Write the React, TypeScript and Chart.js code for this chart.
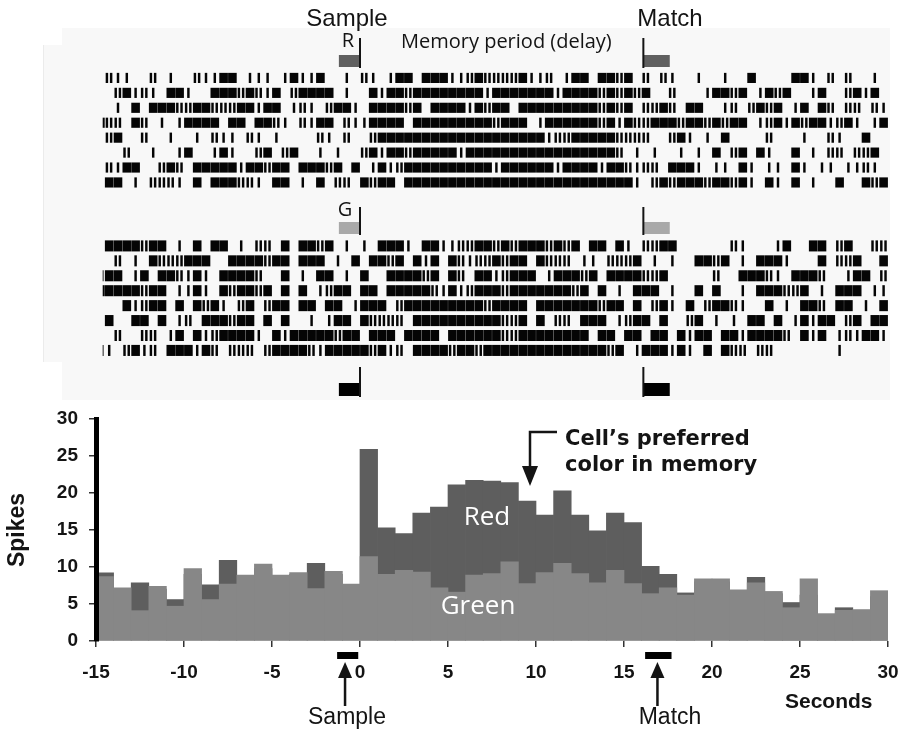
import React, { useEffect, useRef } from 'react';
import { Chart, registerables } from 'chart.js';
Chart.register(...registerables);

// ---------------- DATA ----------------
// Histogram: 1-second bins (start of each bin, seconds)
const binStarts = [-15, -14, -13, -12, -11, -10, -9, -8, -7, -6, -5, -4, -3, -2, -1, 0, 1, 2, 3, 4, 5, 6, 7, 8, 9, 10, 11, 12, 13, 14, 15, 16, 17, 18, 19, 20, 21, 22, 23, 24, 25, 26, 27, 28, 29];
const redCounts = [9.2, 7.0, 7.85, 7.0, 5.6, 9.0, 7.6, 10.9, 8.5, 9.8, 8.6, 9.0, 10.5, 9.0, 7.5, 25.9, 15.3, 14.5, 17.3, 18.1, 21.1, 21.7, 21.6, 21.4, 18.9, 17.0, 20.3, 17.0, 14.9, 17.3, 16.0, 10.1, 9.0, 6.5, 8.0, 8.0, 6.5, 8.6, 6.4, 5.2, 6.2, 3.5, 4.5, 4.0, 6.0];
const greenCounts = [8.7, 7.2, 4.1, 7.4, 4.7, 9.8, 5.6, 7.7, 8.9, 10.4, 8.9, 9.25, 7.1, 9.4, 7.7, 11.4, 9.0, 9.55, 9.3, 7.2, 6.6, 8.9, 9.1, 10.7, 7.75, 9.25, 10.5, 9.1, 7.85, 9.55, 7.75, 6.4, 7.2, 6.2, 8.4, 8.4, 6.9, 7.85, 6.7, 4.5, 8.4, 3.7, 4.15, 4.25, 6.8];
const xTickValues = [-15, -10, -5, 0, 5, 10, 15, 20, 25, 30];
const yTickValues = [0, 5, 10, 15, 20, 25, 30];

// Task epochs (seconds)
const sampleWindow = [-1.2, 0];
const matchWindow = [16.1, 17.6];
const sampleBar = [-1.3, -0.1];
const matchBar = [16.2, 17.7];
const sampleArrowAt = -0.85;
const matchArrowAt = 16.9;

// Raster: each row = 9 chunks of 5 s, each chunk = 10 bins of 0.5 s, from -15 s.
// ' ' none, '|' one spike, ':' two spikes, '#' burst filling the bin
const RASTER_START = -15;
const RASTER_FIRST = -14.62;
const BIN = 0.5;
const redRows = [
  ["|:||  : | ", " :||## |||", " |#||#  | ", ":| |## ###", "||:#::::#|", "|: |## ##:", "# : :|  | ", " |  #    #", "#| : :  | "],
  ["  :#|:| ##", "|  ###:#:|", "# :#### | ", " #|##:####", "####|#####", "##|####:#:", "#:#  :   |", "##:# |#:# ", " |#  :#|# "],
  ["| | # ###:", ":##:::##|#", "# |:| :##|", " ####:# ##", "##|#:## ##", "#######:#:", "# ::#: ## ", " |: :#:# |", "# #: :: :|"],
  ["#:: #: | |", "#### ## ##", ":| :|## :|", "|#### ####", "#####:### ", "|######:#|", "#::###:##:", "#:## |:#|#", ":##|:#| |#"],
  [" :#  :  | ", " | :|| :| ", "|    :| : ", " :########", "##########", "#|::#####:", ":::  :#| |", " #    :   ", "|  :|  #  "],
  ["|  :  |  |", "#  |#|  :#", " :#  | |  ", ":#|##:####", "#|########", "#########:", " | |  | | ", "# :# #|  #", " | :: ::# "],
  [" :|##  :#:", " #####|##:", "## ###:# #", " |#|:#####", "#####|####", "##|####|##", ":|:: ###| ", "|| #| || #", "| || ||:| "],
  [" ## | :::|", " # ###::| ", "## | # :: ", "#:## #####", "##########", "##########", "#| :#:###:", "##:#| #| #", " |  #  #:#"],
];
const greenRows = [
  [" ####:## |", " # ## | ::", " # ##:# | ", "| ###| ##|", "|::##:#:##", "#:#:# ## #", "| ::##    ", "  :|   |# ", " ## :#  ::"],
  ["| : | #:::", "###  ####:", "## ### | #", " ##:# #|# ", "#:|::#:## ", "#::: || ::", ":# | |  ##", ":# | ###| ", "  # ::#  #"],
  [":## |# ##:", "|#| ####: ", " # | ## | ", "#  ####:# ", "#: ##|:###", " |###:# ##", "##::#     ", ":  ###:| #", "##:  |## :"],
  ["#####:## |", "|#| #:##:#", " # # |:## ", "## #####:|", "#|:###:###", "####:# # |", " ### |  # ", "#  | ###::", "# | ### ||"],
  ["   #|:## #", " #:#| :# :", "## ## ## |", "### :#####", "####:#### ", "#######:##", " # :#| # :", "##:|  # | ", "##: ## | #"],
  [" #  ## # |", ": ###:## #", " #  | |## ", "#:::: ####", "######::# ", "# :: ### |", ":## #  :# ", "| | ## # |", "#|## :# ##"],
  ["  :  :: |#", " #|:####| ", "#|#####:##", " ### #### ", "######::##", "###### ## ", "## ## #|##", " ##|####: ", "#|# |:|##|"],
  [":| :#|: ##", "#|#: ::: :", "####:|####", "#:#|: ####", ":##:######", "########:#", " |###|#| #", " #:: ::   ", "    |     "],
];
const GREEN_ROW_OFFSET = 11.25;

// ---------------- STYLE ----------------
const HELV = "'Liberation Sans', Arial, Helvetica, sans-serif";
const MYR = "'Open Sans', 'Noto Sans', sans-serif";
const DARK = '#5e5e5e';
const LIGHT = '#878787';
const INK = '#141414';

function rowSegments(chunks: string[]): [number, number][] {
  const segs: [number, number][] = [];
  const push = (a: number, b: number) => {
    if (b <= RASTER_FIRST) return;
    segs.push([Math.max(a, RASTER_FIRST), b]);
  };
  chunks.forEach((chunk, ci) => {
    for (let k = 0; k < Math.min(chunk.length, 10); k++) {
      const b = RASTER_START + (ci * 10 + k) * BIN;
      const c = chunk[k];
      if (c === '|') push(b + 0.18, b + 0.32);
      else if (c === ':') { push(b + 0.05, b + 0.19); push(b + 0.29, b + 0.43); }
      else if (c === '#') push(b + 0.005, b + 0.495);
    }
  });
  return segs;
}

const rasterDecor = {
  id: 'rasterDecor',
  beforeDraw(chart: any) {
    const { ctx, width, height } = chart;
    ctx.save();
    ctx.fillStyle = '#ffffff';
    ctx.fillRect(0, 0, width, height);
    ctx.fillStyle = '#f8f8f8';
    ctx.fillRect(62, 28, 828, 372);
    ctx.fillRect(44, 45, 18, 317);
    ctx.strokeStyle = '#ebebeb';
    ctx.lineWidth = 1;
    ctx.beginPath(); ctx.moveTo(43.5, 45); ctx.lineTo(43.5, 362); ctx.stroke();
    ctx.restore();
  },
  afterDatasetsDraw(chart: any) {
    const { ctx } = chart;
    const xs = chart.scales.x;
    const X = (t: number) => xs.getPixelForValue(t);
    ctx.save();
    const marker = (lineTop: number, boxTop: number, boxBottom: number, fill: string) => {
      const s0 = X(sampleWindow[0]), s1 = X(sampleWindow[1]);
      ctx.fillStyle = fill; ctx.fillRect(s0, boxTop, s1 - s0 - 1, boxBottom - boxTop);
      ctx.fillStyle = INK; ctx.fillRect(s1 - 1, lineTop, 2, boxBottom - lineTop + 1);
      const m0 = X(matchWindow[0]), m1 = X(matchWindow[1]);
      ctx.fillStyle = fill; ctx.fillRect(m0, boxTop, m1 - m0, boxBottom - boxTop);
      ctx.fillStyle = INK; ctx.fillRect(m0 - 1, lineTop, 2, boxBottom - lineTop + 1);
    };
    marker(38, 55, 67, '#606060');
    marker(207, 222, 234, '#a9a9a9');
    marker(367, 383, 396, '#000000');

    ctx.fillStyle = INK;
    ctx.textBaseline = 'alphabetic';
    ctx.textAlign = 'center';
    ctx.font = `24px ${HELV}`;
    ctx.fillText('Sample', 347, 26);
    ctx.fillText('Match', 670, 26);
    ctx.font = `20px ${MYR}`;
    ctx.fillText('R', 348, 47);
    ctx.fillText('G', 345, 216);
    ctx.textAlign = 'left';
    ctx.font = `20px ${MYR}`;
    ctx.fillText('Memory period (delay)', 401, 48);
    ctx.restore();
  },
};

const histDecor = {
  id: 'histDecor',
  beforeDraw(chart: any) {
    const { ctx, width, height } = chart;
    ctx.save();
    ctx.fillStyle = '#ffffff';
    ctx.fillRect(0, 0, width, height);
    ctx.restore();
  },
  afterDraw(chart: any) {
    const { ctx } = chart;
    const xs = chart.scales.x;
    const X = (t: number) => xs.getPixelForValue(t);
    ctx.save();
    ctx.fillStyle = '#000';
    ctx.fillRect(X(sampleBar[0]), 252, X(sampleBar[1]) - X(sampleBar[0]), 7);
    ctx.fillRect(X(matchBar[0]), 252, X(matchBar[1]) - X(matchBar[0]), 7);

    const upArrow = (x: number) => {
      ctx.fillStyle = INK;
      ctx.fillRect(x - 1.25, 275, 2.5, 31);
      ctx.beginPath();
      ctx.moveTo(x, 262); ctx.lineTo(x + 7, 278); ctx.lineTo(x - 7, 278); ctx.closePath();
      ctx.fill();
    };
    upArrow(X(sampleArrowAt));
    upArrow(X(matchArrowAt));

    ctx.fillStyle = INK;
    ctx.textBaseline = 'alphabetic';
    ctx.textAlign = 'center';
    ctx.font = `23px ${HELV}`;
    ctx.fillText('Sample', 347, 324);
    ctx.fillText('Match', 670, 324);
    ctx.textAlign = 'left';
    ctx.font = `bold 21px ${HELV}`;
    ctx.fillText('Seconds', 785, 308);

    ctx.font = `bold 21px 'DejaVu Sans', ${HELV}`;
    ctx.fillText('Cell\u2019s preferred', 565, 45);
    ctx.fillText('color in memory', 565, 71);
    ctx.strokeStyle = INK;
    ctx.lineWidth = 2.5;
    ctx.beginPath();
    ctx.moveTo(557, 32); ctx.lineTo(530, 32); ctx.lineTo(530, 70);
    ctx.stroke();
    ctx.beginPath();
    ctx.moveTo(522, 66); ctx.lineTo(538, 66); ctx.lineTo(530, 86); ctx.closePath();
    ctx.fill();

    ctx.fillStyle = '#ffffff';
    ctx.textAlign = 'center';
    ctx.font = `26px ${MYR}`;
    ctx.fillText('Red', 487, 125);
    ctx.fillText('Green', 478, 214);
    ctx.restore();
  },
};

export default function App() {
  const rasterRef = useRef<HTMLCanvasElement | null>(null);
  const histRef = useRef<HTMLCanvasElement | null>(null);

  useEffect(() => {
    const rasterDatasets: any[] = [];
    redRows.forEach((row, i) => {
      rasterDatasets.push({
        data: rowSegments(row).map((s) => ({ x: s, y: i })),
        backgroundColor: '#050505',
        borderWidth: 0,
        grouped: false,
        categoryPercentage: 1,
        barPercentage: 0.68,
      });
    });
    greenRows.forEach((row, j) => {
      rasterDatasets.push({
        data: rowSegments(row).map((s) => ({ x: s, y: GREEN_ROW_OFFSET + j })),
        backgroundColor: '#050505',
        borderWidth: 0,
        grouped: false,
        categoryPercentage: 1,
        barPercentage: 0.74,
      });
    });

    const raster = new Chart(rasterRef.current as HTMLCanvasElement, {
      type: 'bar',
      data: { datasets: rasterDatasets },
      plugins: [rasterDecor],
      options: {
        indexAxis: 'y',
        animation: false,
        responsive: false,
        events: [],
        layout: { padding: { left: 96, right: 14, top: 0, bottom: 0 } },
        plugins: { legend: { display: false }, tooltip: { enabled: false } },
        scales: {
          x: { type: 'linear', min: -15, max: 30, display: false },
          y: {
            type: 'linear', min: -5.22, max: 21.57, reverse: true, display: false,
            offset: false, grid: { offset: false }, ticks: { stepSize: 100 },
          },
        },
      } as any,
    });

    const hist = new Chart(histRef.current as HTMLCanvasElement, {
      type: 'bar',
      data: {
        datasets: [
          {
            label: 'Green',
            data: binStarts.map((b, i) => ({ x: b + 0.5, y: greenCounts[i] })),
            backgroundColor: LIGHT,
            borderWidth: 0,
            grouped: false,
            categoryPercentage: 1,
            barPercentage: 1,
          },
          {
            label: 'Red',
            data: binStarts.map((b, i) => ({ x: b + 0.5, y: redCounts[i] })),
            backgroundColor: DARK,
            borderWidth: 0,
            grouped: false,
            categoryPercentage: 1,
            barPercentage: 1,
          },
        ],
      },
      plugins: [histDecor],
      options: {
        animation: false,
        responsive: false,
        events: [],
        layout: { padding: { left: 0, right: 14, top: 19, bottom: 0 } },
        plugins: { legend: { display: false }, tooltip: { enabled: false } },
        scales: {
          x: {
            type: 'linear', min: -15, max: 30, offset: false,
            afterBuildTicks: (s: any) => { s.ticks = xTickValues.map((v) => ({ value: v })); },
            afterFit: (s: any) => { s.height = 93; s.paddingLeft = 0; s.paddingRight = 0; },
            grid: { offset: false, display: true, drawOnChartArea: false, drawTicks: true, tickLength: 6, color: '#333', lineWidth: 1.5 },
            border: { display: false },
            ticks: { color: INK, padding: 14, maxRotation: 0, autoSkip: false, font: { family: HELV, weight: 'bold', size: 19 } },
          },
          y: {
            type: 'linear', min: 0, max: 30,
            afterBuildTicks: (s: any) => { s.ticks = yTickValues.map((v) => ({ value: v })); },
            afterFit: (s: any) => { s.width = 96; s.paddingTop = 0; s.paddingBottom = 0; },
            grid: { display: true, drawOnChartArea: false, drawTicks: true, tickLength: 7, color: '#333', lineWidth: 1.5 },
            border: { display: true, color: '#000', width: 5, z: 1 },
            ticks: { color: INK, padding: 11, font: { family: HELV, weight: 'bold', size: 19 } },
            title: { display: true, text: 'Spikes', color: INK, padding: { top: 4, bottom: 4 }, font: { family: HELV, weight: 'bold', size: 23 } },
          },
        },
      } as any,
    });

    return () => {
      raster.destroy();
      hist.destroy();
    };
  }, []);

  return (
    <div style={{ position: 'absolute', left: 0, top: 0, width: 902, height: 734, background: '#fff' }}>
      <canvas ref={rasterRef} width={902} height={400} style={{ position: 'absolute', left: 0, top: 0, width: 902, height: 400 }} />
      <canvas ref={histRef} width={902} height={334} style={{ position: 'absolute', left: 0, top: 400, width: 902, height: 334 }} />
    </div>
  );
}
